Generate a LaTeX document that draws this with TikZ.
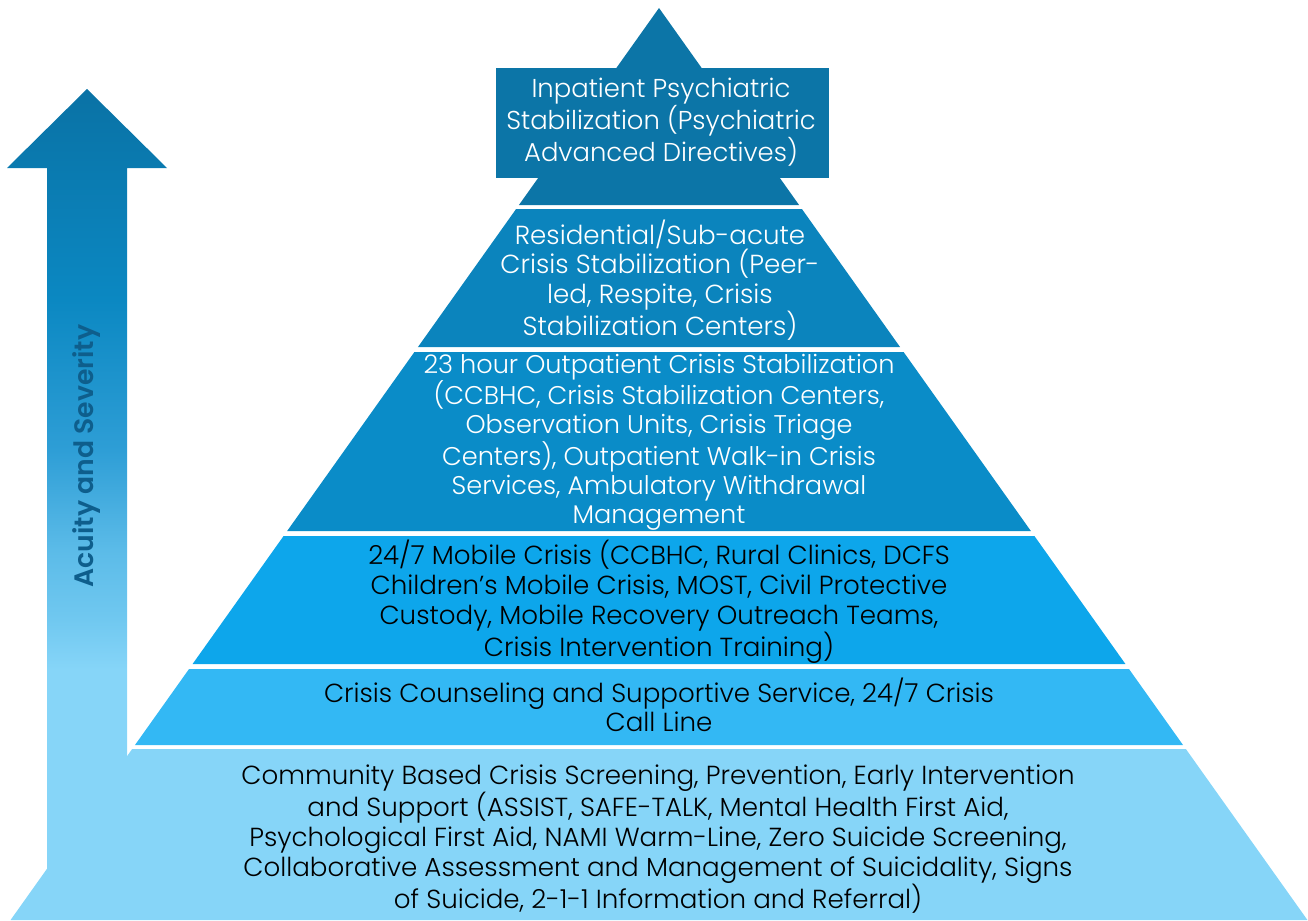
\documentclass[tikz,border=0pt]{standalone}
\usepackage{fontspec}
\setmainfont{Poppins}[UprightFont=* Light,BoldFont=* SemiBold]

\definecolor{tierone}{HTML}{0C75A7}
\definecolor{tiertwo}{HTML}{0B84BD}
\definecolor{tierthree}{HTML}{0A8CC8}
\definecolor{tierfour}{HTML}{0DA6EB}
\definecolor{tierfive}{HTML}{33B8F4}
\definecolor{tiersix}{HTML}{86D5F8}
\definecolor{arrowtop}{HTML}{0A72A5}
\definecolor{arrowhigh}{HTML}{0B88C2}
\definecolor{arrowmid}{HTML}{2E9ED6}
\definecolor{arrowlow}{HTML}{5BBBE8}
\definecolor{arrowpale}{HTML}{70C8F0}
\definecolor{labelblue}{HTML}{0E5E8C}

% arrow fades from dark at the tip to the base colour
\pgfdeclareverticalshading{acuityshade}{100bp}{color(0bp)=(tiersix); color(39.2bp)=(tiersix);
  color(42.3bp)=(arrowpale); color(46.6bp)=(arrowlow); color(52.7bp)=(arrowmid);
  color(62bp)=(arrowhigh); color(75bp)=(arrowtop); color(100bp)=(arrowtop)}

\begin{document}
\begin{tikzpicture}[x=0.75pt,y=-0.75pt,
    tiertext/.style={align=center,inner sep=0pt,font=\fontsize{19.6}{22.2}\selectfont},
    lighttext/.style={tiertext,text=white}]
\useasboundingbox (0,0) rectangle (1308,920);
\def\apx{659}
\def\apy{8}
\def\sl{0.711}
% acuity arrow
\shade[shading=acuityshade] (87,89) -- (167,168) -- (127,168) -- (127,900)
    -- (47,900) -- (47,168) -- (7,168) -- cycle;
\node[rotate=90,text=labelblue,font=\fontsize{20}{24}\selectfont\bfseries]
    (acuity) at (87,456) {Acuity and Severity};
% pyramid
\fill[tierone] (\apx,\apy) -- ({\apx+(205-\apy)*\sl},205)
    -- ({\apx-(205-\apy)*\sl},205) -- cycle;
\fill[tierone] (496,68) rectangle (829,178);
\foreach \t/\b/\c in {209/347/tiertwo,352/531/tierthree,536/664/tierfour,
    669/745/tierfive,749/920/tiersix}
    {\fill[\c] ({\apx-(\t-\apy)*\sl},\t) -- ({\apx+(\t-\apy)*\sl},\t)
        -- ({\apx+(\b-\apy)*\sl},\b) -- ({\apx-(\b-\apy)*\sl},\b) -- cycle;}
% labels
\node[lighttext,font=\fontsize{19.4}{24}\selectfont] (inpatient) at (661,122)
    {Inpatient Psychiatric\\Stabilization (Psychiatric\\Advanced Directives)};
\node[lighttext] (residential) at (660,280)
    {Residential/Sub-acute\\Crisis Stabilization (Peer-\\led, Respite, Crisis\\Stabilization Centers)};
\node[lighttext,font=\fontsize{19.2}{21.6}\selectfont] (outpatient) at (659,442)
    {23 hour Outpatient Crisis Stabilization\\(CCBHC, Crisis Stabilization Centers,\\Observation Units, Crisis Triage\\Centers), Outpatient Walk-in Crisis\\Services, Ambulatory Withdrawal\\Management};
\node[tiertext] (mobile) at (659,602)
    {24/7 Mobile Crisis (CCBHC, Rural Clinics, DCFS\\Children’s Mobile Crisis, MOST, Civil Protective\\Custody, Mobile Recovery Outreach Teams,\\Crisis Intervention Training)};
\node[tiertext] (counseling) at (659,705)
    {Crisis Counseling and Supportive Service, 24/7 Crisis\\Call Line};
\node[tiertext] (community) at (658,839)
    {Community Based Crisis Screening, Prevention, Early Intervention\\and Support (ASSIST, SAFE-TALK, Mental Health First Aid,\\Psychological First Aid, NAMI Warm-Line, Zero Suicide Screening,\\Collaborative Assessment and Management of Suicidality, Signs\\of Suicide, 2-1-1 Information and Referral)};
\end{tikzpicture}
\end{document}
